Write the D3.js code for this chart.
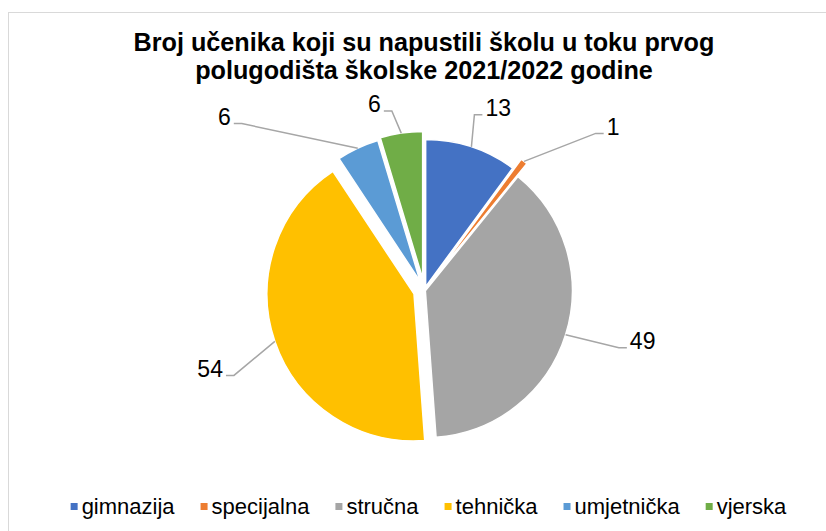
<!DOCTYPE html>
<html>
<head>
<meta charset="utf-8">
<script src="https://cdn.jsdelivr.net/npm/d3@7"></script>
<style>
  body { margin: 0; background: #fff; }
  svg { display: block; font-family: "Liberation Sans", Arial, sans-serif; }
</style>
</head>
<body>
<svg id="chart"></svg>
<script>
var w = 826, h = 531;

// data
var categories = ["gimnazija", "specijalna", "stručna", "tehnička", "umjetnička", "vjerska"];
var values = [13, 1, 49, 54, 6, 6];
var colors = ["#4472C4", "#ED7D31", "#A5A5A5", "#FFC000", "#5B9BD5", "#70AD47"];
var titleLines = ["Broj učenika koji su napustili školu u toku prvog", "polugodišta školske 2021/2022 godine"];

// layout (explosion per slice in px, label polar position [deg, px] from pie center)
var explode = [4, 16, 1, 11, 10, 12];
var labelPolar = [[22, 197], [49, 250], [103, 224], [250, 228], [311, 265], [345, 193]];

var cx = 424.4, cy = 290.4, r = 147;

var svg = d3.select("#chart").attr("width", w).attr("height", h);

// chart frame
svg.append("rect")
    .attr("x", 8.5).attr("y", 12.5)
    .attr("width", w + 20).attr("height", h + 20)
    .attr("fill", "none")
    .attr("stroke", "#d9d9d9")
    .attr("stroke-width", 1);

// title
svg.append("g").selectAll("text")
    .data(titleLines)
    .enter().append("text")
    .attr("x", 424)
    .attr("y", (d, i) => 51 + i * 28)
    .attr("text-anchor", "middle")
    .attr("font-size", 25.2)
    .attr("font-weight", "bold")
    .attr("fill", "#000")
    .text(d => d);

var pie = d3.pie().sort(null).value(d => d.value);
var arc = d3.arc().innerRadius(0).outerRadius(r);

var data = categories.map((c, i) => ({ name: c, value: values[i], color: colors[i], ex: explode[i], lp: labelPolar[i] }));
var arcs = pie(data);

function dir(a) { return [Math.sin(a), -Math.cos(a)]; }

var g = svg.append("g").attr("transform", "translate(" + cx + "," + cy + ")");

g.selectAll(".slice")
    .data(arcs)
    .enter().append("path")
    .attr("class", "slice")
    .attr("d", arc)
    .attr("transform", d => {
        var m = (d.startAngle + d.endAngle) / 2, v = dir(m);
        return "translate(" + v[0] * d.data.ex + "," + v[1] * d.data.ex + ")";
    })
    .attr("fill", d => d.data.color)
    .attr("stroke", "#fff")
    .attr("stroke-width", 1.5);

// data labels with leader lines
var labels = g.append("g");
arcs.forEach(d => {
    var m = (d.startAngle + d.endAngle) / 2, v = dir(m);
    var ax = v[0] * (d.data.ex + r), ay = v[1] * (d.data.ex + r);
    var la = d.data.lp[0] * Math.PI / 180, lv = dir(la);
    var lx = lv[0] * d.data.lp[1], ly = lv[1] * d.data.lp[1];

    var t = labels.append("text")
        .attr("x", lx).attr("y", ly)
        .attr("dy", "0.36em")
        .attr("text-anchor", "middle")
        .attr("font-size", 23)
        .attr("fill", "#000")
        .text(d.data.value);
    var tw = t.node().getComputedTextLength();

    var yy = ly + 7, x1, x2;
    if (lx > ax) { x1 = lx - tw / 2 - 3; x2 = x1 - 8; }
    else { x1 = lx + tw / 2 + 3; x2 = x1 + 8; }

    labels.insert("polyline", "text")
        .attr("points", [[x1, yy], [x2, yy], [ax, ay]].map(p => p.join(",")).join(" "))
        .attr("fill", "none")
        .attr("stroke", "#A6A6A6")
        .attr("stroke-width", 1.5);
});

// legend
var legend = svg.append("g");
var items = legend.selectAll("g")
    .data(data)
    .enter().append("g");
items.append("rect")
    .attr("width", 7).attr("height", 7)
    .attr("y", 503)
    .attr("fill", d => d.color);
items.append("text")
    .attr("y", 514)
    .attr("font-size", 22)
    .attr("fill", "#000")
    .text(d => d.name);

var widths = [];
items.selectAll("text").each(function () { widths.push(this.getComputedTextLength()); });
var gap = 26, total = d3.sum(widths) + widths.length * 11 + gap * (widths.length - 1);
var xpos = 428.5 - total / 2;
items.each(function (d, i) {
    d3.select(this).select("rect").attr("x", xpos);
    d3.select(this).select("text").attr("x", xpos + 11);
    xpos += 11 + widths[i] + gap;
});
</script>
</body>
</html>
